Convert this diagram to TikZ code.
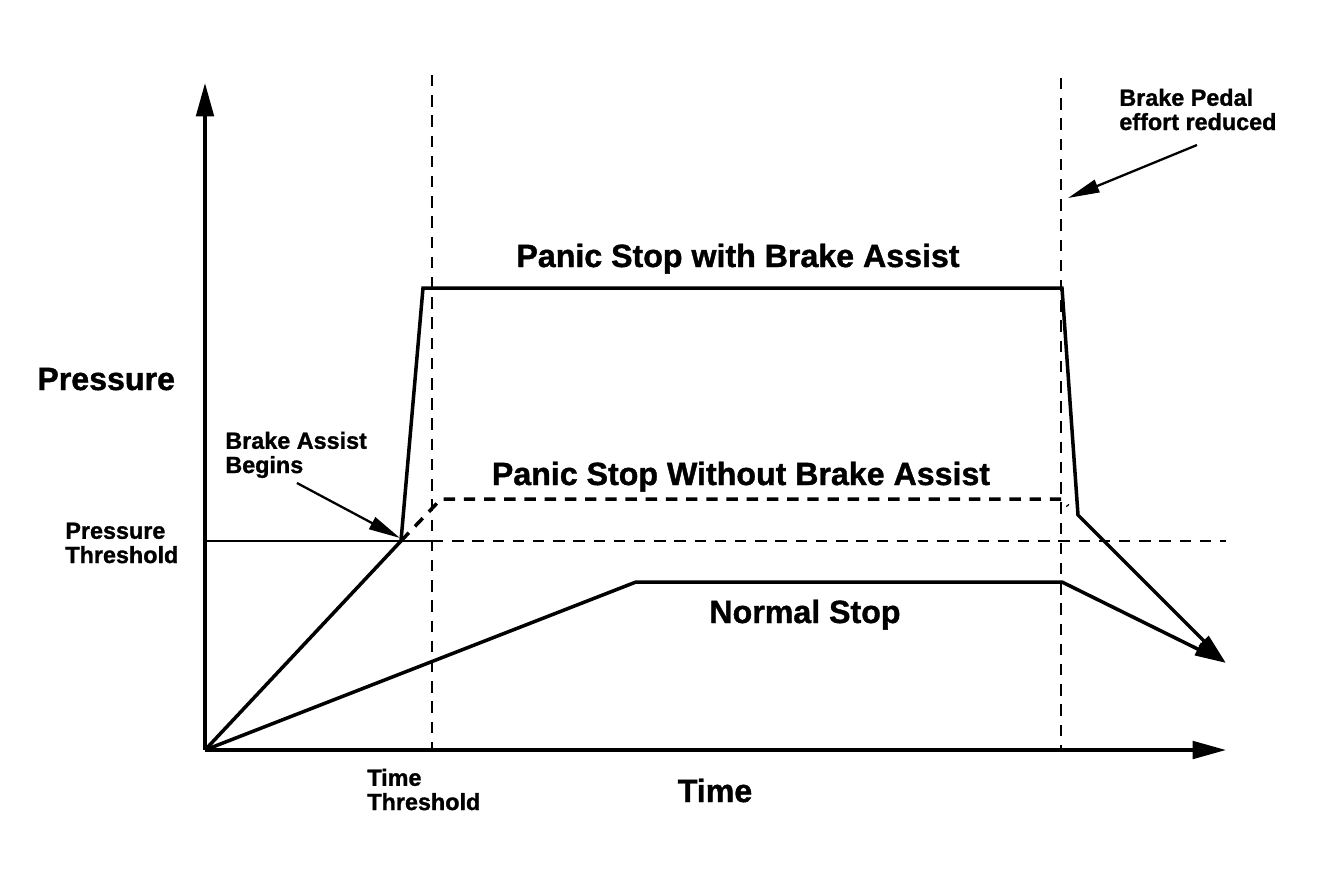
\documentclass[tikz,border=0pt]{standalone}
\usepackage{fontspec}
\setmainfont{Liberation Sans}[BoldFeatures={FakeBold=1.2}]
\usetikzlibrary{arrows.meta}
\begin{document}
\begin{tikzpicture}[x=0.02cm, y=-0.02cm, >={Triangle[length=18pt,width=7.5pt]},
    biglabel/.style={font=\fontsize{18.3}{18.3}\selectfont\bfseries, inner sep=0pt},
    smalllabel/.style={font=\fontsize{13.3}{13.8}\selectfont\bfseries, inner sep=0pt, align=left},
    guide/.style={line width=1.1pt, dash pattern=on 6.5pt off 5pt},
    curve/.style={line width=2pt, line join=miter}]
  \useasboundingbox (0,0) rectangle (1320,887);
  \coordinate (O) at (205,750);
  \coordinate (ba) at (401,541);

  \draw[line width=1.9pt, -{Triangle[length=19pt,width=10pt]}] (O) -- (205,83);
  \draw[line width=1.9pt, -{Triangle[length=19pt,width=10pt]}] (O) -- (1226,750);

  \draw[guide] (432,75) -- (432,750);
  \draw[guide] (1061,78) -- (1061,750);
  \draw[line width=1.2pt] (205,541) -- (432,541);
  \draw[guide] (432,541) -- (1226,541);

  \draw[curve, ->] (O) -- (ba) -- (423,288) -- (1062,288) -- (1078,515) -- (1226,663);
  \draw[curve, dash pattern=on 6.5pt off 5pt] (ba) -- (441,499) -- (1062,499) -- (1068,506);
  \draw[curve, ->] (O) -- (636,582) -- (1062,582) -- (1226,663);

  \node[biglabel, anchor=base west] (pres) at (37,390) {Pressure};
  \node[biglabel, anchor=base] (time) at (715,802) {Time};
  \node[biglabel, anchor=base] (withba) at (738,267) {Panic Stop with Brake Assist};
  \node[biglabel, anchor=base] (withoutba) at (741,485) {Panic Stop Without Brake Assist};
  \node[biglabel, anchor=base] (normal) at (805,623) {Normal Stop};

  \node[smalllabel, anchor=base west] (pthr) at (65,563) {Pressure\\Threshold};
  \node[smalllabel, anchor=base west] (tthr) at (367,810) {Time\\Threshold};
  \node[smalllabel, anchor=base west] (begins) at (225,473) {Brake Assist\\Begins};
  \node[smalllabel, anchor=base west] (pedal) at (1119,130) {Brake Pedal\\effort reduced};

  \coordinate (begtail) at (297,483);
  \coordinate (pedtail) at (1197,145);
  \draw[line width=1.3pt, ->] (begtail) -- (400,538);
  \draw[line width=1.3pt, ->] (pedtail) -- (1068,198);
\end{tikzpicture}
\end{document}
